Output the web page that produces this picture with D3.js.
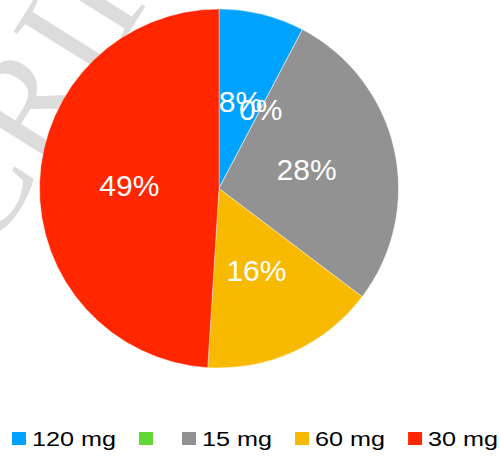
<!DOCTYPE html>
<html>
<head>
<meta charset="utf-8">
<script src="https://cdn.jsdelivr.net/npm/d3@7"></script>
<style>
    html, body { margin: 0; padding: 0; background: #fff; }
    svg { display: block; }
</style>
</head>
<body>
<div id="chart"></div>
<script>
// doses shown in the legend (the second one has no label in the original)
const doses = ["120 mg", "", "15 mg", "60 mg", "30 mg"];
// share of patients per dose, in percent
const shares = [7.7, 0, 27.6, 15.7, 49.0];
const colors = ["#00A2FF", "#61D836", "#929292", "#F8BA00", "#FF2600"];

const width = 500;
const height = 457;
const cx = 219, cy = 188.5;
const radius = 179.5;

const data = doses.map((d, i) => ({ dose: d, value: shares[i], color: colors[i] }));

const svg = d3.select("#chart")
    .append("svg")
    .attr("width", width)
    .attr("height", height);

// faint watermark that sits behind the chart
svg.append("text")
    .attr("transform", "translate(-12,258) rotate(-58)")
    .attr("font-family", "'Liberation Serif', 'DejaVu Serif', serif")
    .attr("font-size", "150px")
    .attr("fill", "#dcdcdc")
    .text("CRIPT");

const g = svg.append("g")
    .attr("transform", `translate(${cx},${cy})`);

const pie = d3.pie()
    .sort(null)
    .value(d => d.value);

const arc = d3.arc()
    .innerRadius(0)
    .outerRadius(radius);

const labelArc = d3.arc()
    .innerRadius(radius * 0.5)
    .outerRadius(radius * 0.5);

const arcs = pie(data);

g.selectAll(".slice")
    .data(arcs)
    .join("path")
    .attr("class", "slice")
    .attr("d", arc)
    .attr("fill", d => d.data.color)
    .attr("stroke", "#fff")
    .attr("stroke-width", 0.4);

g.selectAll(".pct")
    .data(arcs)
    .join("text")
    .attr("class", "pct")
    .attr("transform", d => `translate(${labelArc.centroid(d)})`)
    .attr("text-anchor", "middle")
    .attr("dy", "0.36em")
    .attr("font-family", "'Liberation Sans', Arial, sans-serif")
    .attr("font-size", "30px")
    .attr("fill", "#fff")
    .text(d => Math.round(d.data.value) + "%");

// legend along the bottom
const legend = svg.append("g").attr("class", "legend");
let x = 12;
data.forEach(d => {
    const item = legend.append("g").attr("transform", `translate(${x},0)`);
    item.append("rect")
        .attr("x", 0)
        .attr("y", 432)
        .attr("width", 14)
        .attr("height", 13)
        .attr("fill", d.color);
    const t = item.append("text")
        .attr("transform", "translate(20,446) scale(1.2,1)")
        .attr("font-family", "'Liberation Sans', Arial, sans-serif")
        .attr("font-size", "21px")
        .attr("fill", "#000")
        .text(d.dose);
    const w = d.dose ? t.node().getComputedTextLength() * 1.2 : 0;
    x += 20 + w + 23;
});
</script>
</body>
</html>
